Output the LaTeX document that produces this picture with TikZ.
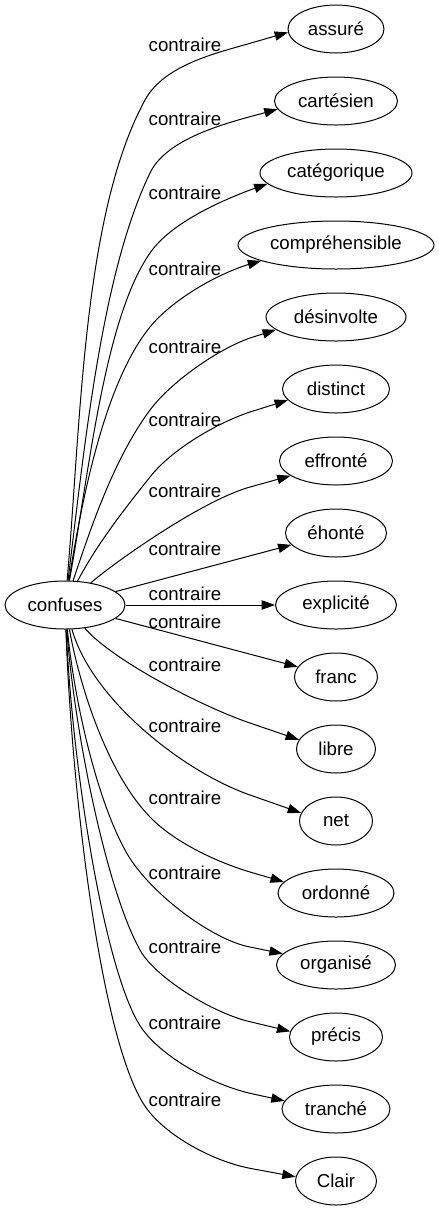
\documentclass[tikz,border=0pt]{standalone}
\usepackage{fontspec}
\setmainfont{Liberation Sans}
\usetikzlibrary{shapes.geometric,arrows.meta}
\begin{document}
\begin{tikzpicture}[x=0.75pt,y=-0.75pt,
  every node/.style={font=\fontsize{14pt}{16pt}\selectfont},
  wnode/.style={draw, ellipse, line width=0.75pt, inner sep=0pt, minimum height=36pt},
  nw/.style={minimum width={#1*0.75pt}},
  lbl/.style={inner sep=0pt},
  conn/.style={draw, line width=0.75pt, -{Triangle[length=10pt,width=7pt]}}
]
\useasboundingbox (0,0) rectangle (439,1211);
\node[wnode, nw=120] (confuses) at (65,605) {confuses};
\node[wnode, nw=96]  (assure)         at (336,29)   {assuré};
\node[wnode, nw=123] (cartesien)      at (336,101)  {cartésien};
\node[wnode, nw=152] (categorique)    at (336,173)  {catégorique};
\node[wnode, nw=196] (comprehensible) at (336,245)  {compréhensible};
\node[wnode, nw=140] (desinvolte)     at (336,317)  {désinvolte};
\node[wnode, nw=107] (distinct)       at (336,389)  {distinct};
\node[wnode, nw=113] (effronte)       at (336,461)  {effronté};
\node[wnode, nw=101] (ehonte)         at (336,533)  {éhonté};
\node[wnode, nw=121] (explicite)      at (336,605)  {explicité};
\node[wnode, nw=83]  (franc)          at (336,677)  {franc};
\node[wnode, nw=79]  (libre)          at (336,749)  {libre};
\node[wnode, nw=73]  (net)            at (336,821)  {net};
\node[wnode, nw=116] (ordonne)        at (336,893)  {ordonné};
\node[wnode, nw=119] (organise)       at (336,965)  {organisé};
\node[wnode, nw=93]  (precis)         at (336,1037) {précis};
\node[wnode, nw=108] (tranche)        at (336,1109) {tranché};
\node[wnode, nw=81]  (clair)          at (336,1181) {Clair};

\node[lbl] (l1)  at (185,45)   {contraire};
\node[lbl] (l2)  at (185,119)  {contraire};
\node[lbl] (l3)  at (185,193)  {contraire};
\node[lbl] (l4)  at (185,269)  {contraire};
\node[lbl] (l5)  at (185,347)  {contraire};
\node[lbl] (l6)  at (185,420)  {contraire};
\node[lbl] (l7)  at (185,491)  {contraire};
\node[lbl] (l8)  at (185,549)  {contraire};
\node[lbl] (l9)  at (185,594)  {contraire};
\node[lbl] (l10) at (185,622)  {contraire};
\node[lbl] (l11) at (185,665)  {contraire};
\node[lbl] (l12) at (185,726)  {contraire};
\node[lbl] (l13) at (185,798)  {contraire};
\node[lbl] (l14) at (185,873)  {contraire};
\node[lbl] (l15) at (185,947)  {contraire};
\node[lbl] (l16) at (185,1023) {contraire};
\node[lbl] (l17) at (185,1100) {contraire};

\draw[conn] (confuses) .. controls (81,421) and (83,214) .. (145,100) .. controls (164,65) and (216.5,53) .. (250,43.3) -- (assure.184);
\draw[conn] (confuses) .. controls (85,442) and (102,272) .. (150,173) .. controls (165,141.5) and (216,126) .. (250,116.7) -- (cartesien.188);
\draw[conn] (confuses) .. controls (89,473) and (104,319) .. (150,253) .. controls (170,224) and (217,202.5) .. (250,190) -- (categorique.189);
\draw[conn] (confuses) .. controls (83,492) and (106,381) .. (150,327) .. controls (172,300) and (216.5,274) .. (250,264) -- (comprehensible.192);
\draw[conn] (confuses) .. controls (92,524) and (114.5,458) .. (150,410) .. controls (171,382) and (217,349.6) .. (250,338) -- (desinvolte.192);
\draw[conn] (confuses) .. controls (96,546) and (122,512) .. (150,477) .. controls (171.6,449.5) and (216.8,423) .. (250,412) -- (distinct.193);
\draw[conn] (confuses) .. controls (115,562) and (202,500.4) .. (250,487) -- (effronte.198);
\draw[conn] (confuses) -- (ehonte);
\draw[conn] (confuses) -- (explicite);
\draw[conn] (confuses) -- (franc);
\draw[conn] (confuses) .. controls (112,660) and (202.6,707) .. (250,723) -- (libre.166);
\draw[conn] (confuses) .. controls (92,700) and (184,772) .. (250,795) -- (net.167);
\draw[conn] (confuses) .. controls (80,688) and (108,774) .. (150,817) .. controls (174,842) and (216.5,862) .. (250,872) -- (ordonne.168);
\draw[conn] (confuses) .. controls (74,699) and (96,797) .. (125,850) .. controls (146,890) and (210.7,939.6) .. (250,947) -- (organise.168);
\draw[conn] (confuses) .. controls (74,729) and (106,889) .. (140,950) .. controls (154,976) and (211,1012.7) .. (250,1021.7) -- (precis.173);
\draw[conn] (confuses) .. controls (73,779) and (107,982) .. (143,1030) .. controls (164,1058) and (211,1084) .. (250,1093.3) -- (tranche.171);
\draw[conn] (confuses) .. controls (72,799) and (101,1035) .. (143,1103) .. controls (161,1133) and (210.7,1160.7) .. (250,1168.3) -- (clair.174);
\end{tikzpicture}
\end{document}
